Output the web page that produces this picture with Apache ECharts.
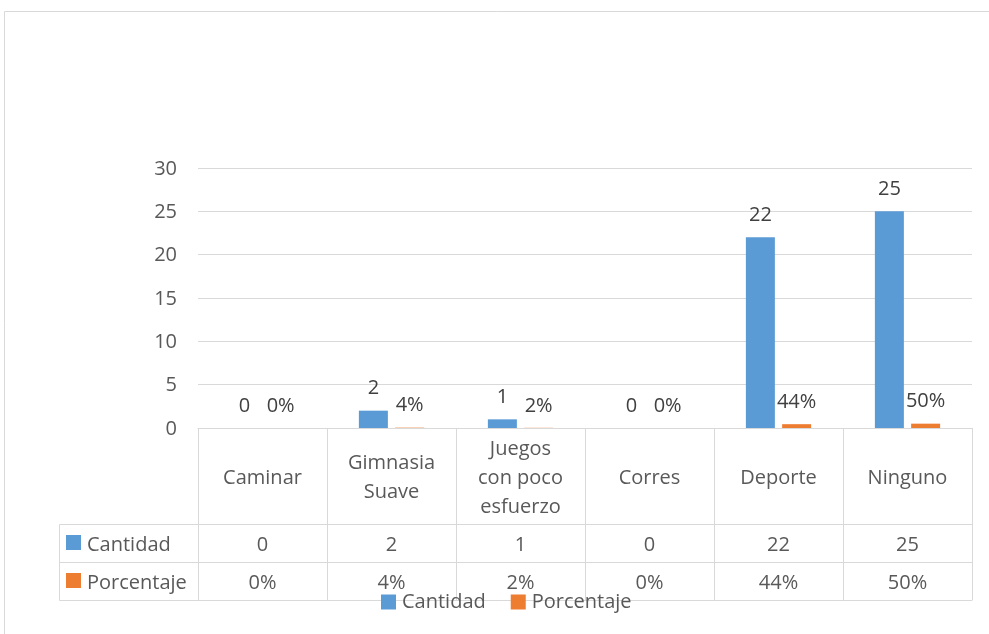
<!DOCTYPE html>
<html>
<head>
<meta charset="utf-8">
<script src="https://cdn.jsdelivr.net/npm/echarts@6/dist/echarts.min.js"></script>
<style>
  html, body { margin: 0; padding: 0; background: #fff; }
  #chart { width: 989px; height: 634px; }
</style>
</head>
<body>
<div id="chart"></div>
<script>
var categories = ['Caminar', 'Gimnasia\nSuave', 'Juegos\ncon poco\nesfuerzo', 'Corres', 'Deporte', 'Ninguno'];
var seriesNames = ['Cantidad', 'Porcentaje'];
var cantidad = [0, 2, 1, 0, 22, 25];
var porcentaje = [0, 0.04, 0.02, 0, 0.44, 0.5];
var yTicks = [0, 30, 5]; // min, max, interval

var colors = ['#5b9bd5', '#ed7d31'];
var txt = '#595959';
var lineC = '#d9d9d9';
var font = '"Open Sans", "Liberation Sans", sans-serif';

function pct(v) { return Math.round(v * 100) + '%'; }

var chart = echarts.init(document.getElementById('chart'));

// table rows under the plot: one x axis per row, offsets in px
function rowAxis(offset, fmt) {
  return {
    type: 'category', data: categories, position: 'bottom', offset: offset,
    axisLine: { show: true, lineStyle: { color: lineC, width: 1 } },
    axisTick: { show: !!fmt, interval: 0, length: 38, lineStyle: { color: lineC } },
    axisLabel: fmt ? {
      show: true, interval: 0, margin: 21, verticalAlign: 'middle',
      color: txt, fontSize: 20, fontFamily: font, formatter: fmt
    } : { show: false },
    splitLine: { show: false }
  };
}

var option = {
  animation: false,
  backgroundColor: '#fff',
  grid: { left: 198, right: 17, top: 168, bottom: 206 },
  legend: {
    data: seriesNames, left: 381, top: 592, padding: 0,
    itemWidth: 15, itemHeight: 15, itemGap: 25, icon: 'rect',
    textStyle: { color: txt, fontSize: 20, fontFamily: font, padding: [2, 0, 0, 1] }
  },
  xAxis: [
    {
      type: 'category', data: categories, position: 'bottom',
      axisLine: { show: true, lineStyle: { color: lineC, width: 1 } },
      axisTick: { show: true, interval: 0, length: 96, lineStyle: { color: lineC } },
      axisLabel: {
        interval: 0, margin: 50, verticalAlign: 'middle', lineHeight: 29,
        color: txt, fontSize: 20, fontFamily: font
      }
    },
    rowAxis(96, function (v, i) { return String(cantidad[i]); }),
    rowAxis(134, function (v, i) { return pct(porcentaje[i]); }),
    rowAxis(172, null)
  ],
  yAxis: {
    type: 'value', min: yTicks[0], max: yTicks[1], interval: yTicks[2],
    axisLine: { show: false }, axisTick: { show: false },
    axisLabel: { color: txt, fontSize: 20, fontFamily: font, margin: 21, verticalAlign: 'top', lineHeight: 20, padding: [-9, 0, 0, 0] },
    splitLine: { lineStyle: { color: lineC, width: 1 } }
  },
  series: [
    {
      name: seriesNames[0], type: 'bar', data: cantidad,
      barWidth: 29, barGap: '25%', itemStyle: { color: colors[0] },
      label: { show: true, position: 'top', distance: 12, color: '#404040', fontSize: 20, fontFamily: font }
    },
    {
      name: seriesNames[1], type: 'bar', data: porcentaje,
      barWidth: 29, itemStyle: { color: colors[1] },
      label: {
        show: true, position: 'top', distance: 12, color: '#404040', fontSize: 20, fontFamily: font,
        formatter: function (p) { return pct(p.value); }
      }
    }
  ],
  graphic: [
    { type: 'rect', z: -10, shape: { x: 4.5, y: 11.5, width: 1100, height: 700 },
      style: { fill: 'none', stroke: lineC, lineWidth: 1 } },
    { type: 'rect', shape: { x: 59.5, y: 524.5, width: 139, height: 76 },
      style: { fill: 'none', stroke: lineC, lineWidth: 1 } },
    { type: 'line', shape: { x1: 59.5, y1: 562.5, x2: 198, y2: 562.5 },
      style: { stroke: lineC, lineWidth: 1 } },
    { type: 'rect', shape: { x: 66, y: 535, width: 15, height: 15 }, style: { fill: colors[0] } },
    { type: 'text', x: 87, y: 545, style: { text: seriesNames[0], fill: txt, fontSize: 20, fontFamily: font, verticalAlign: 'middle' } },
    { type: 'rect', shape: { x: 66, y: 573, width: 15, height: 15 }, style: { fill: colors[1] } },
    { type: 'text', x: 87, y: 583, style: { text: seriesNames[1], fill: txt, fontSize: 20, fontFamily: font, verticalAlign: 'middle' } }
  ]
};

chart.setOption(option);
</script>
</body>
</html>
